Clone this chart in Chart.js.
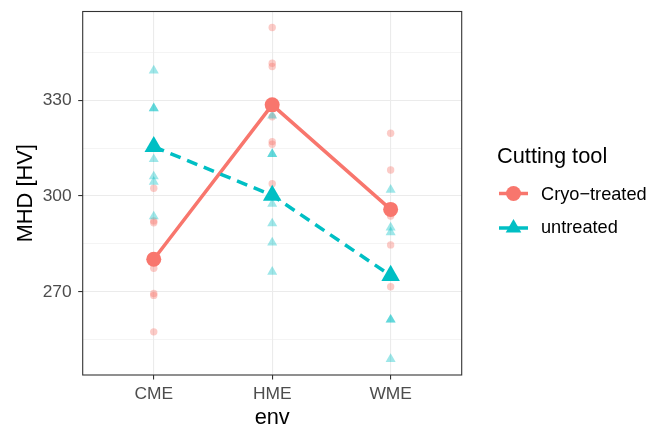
<!DOCTYPE html>
<html>
<head>
<meta charset="utf-8">
<script src="https://cdn.jsdelivr.net/npm/chart.js@4.4.1/dist/chart.umd.min.js"></script>
<style>
  html, body { margin: 0; padding: 0; background: #ffffff; }
  #wrap { width: 651px; height: 428px; }
</style>
</head>
<body>
<div id="wrap"><canvas id="c" width="651" height="428"></canvas></div>
<script>
// Hardness measurements (MHD, HV) per machining environment and cutting tool
const categories = ['CME', 'HME', 'WME'];
const seriesNames = ['Cryo\u2212treated', 'untreated'];

const cryoCME = [302.4, 292.2, 291.6, 277.4, 269.5, 268.9, 257.5];
const cryoHME = [352.7, 341.5, 340.5, 324.8, 317.0, 316.2, 303.8];
const cryoWME = [319.6, 308.1, 293.7, 284.7, 271.6];

const untreatedCME = [339.2, 327.4, 327.4, 316.0, 311.5, 306.1, 304.4, 293.6];
const untreatedHME = [325.1, 313.1, 313.1, 297.5, 291.4, 285.4, 276.3];
const untreatedWME = [301.9, 290.1, 288.6, 261.3, 261.3, 249.0];

// group means
const cryoMeans = [280.2, 328.5, 295.8];
const untreatedMeans = [315.4, 300.2, 275.1];

const yMajorTicks = [270, 300, 330];

const RED = '#F8766D';
const TEAL = '#00BFC4';
const RED_A = 'rgba(248,118,109,0.38)';
const TEAL_A = 'rgba(0,191,196,0.38)';
const FONT = "'Liberation Sans', Arial, Helvetica, sans-serif";

function toPoints(groups) {
  const pts = [];
  groups.forEach((vals, i) => vals.forEach(v => pts.push({ x: i + 1, y: v })));
  return pts;
}
function meanPoints(means) {
  return means.map((v, i) => ({ x: i + 1, y: v }));
}

// axis titles, panel border and legend
const decorations = {
  id: 'decorations',
  afterDraw(chart) {
    const ctx = chart.ctx;
    const a = chart.chartArea;
    ctx.save();
    // panel border
    ctx.strokeStyle = '#333333';
    ctx.lineWidth = 1.1;
    ctx.strokeRect(a.left, a.top, a.right - a.left, a.bottom - a.top);

    // axis titles
    ctx.fillStyle = '#000000';
    ctx.font = '21.8px ' + FONT;
    ctx.textAlign = 'center';
    ctx.textBaseline = 'alphabetic';
    ctx.fillText('env', (a.left + a.right) / 2, 424);
    ctx.save();
    ctx.translate(32, (a.top + a.bottom) / 2);
    ctx.rotate(-Math.PI / 2);
    ctx.fillText('MHD [HV]', 0, 0);
    ctx.restore();

    // legend
    ctx.textAlign = 'left';
    ctx.fillText('Cutting tool', 497, 162.5);

    // Cryo-treated key
    ctx.strokeStyle = RED;
    ctx.lineWidth = 3.5;
    ctx.beginPath();
    ctx.moveTo(499, 193.5);
    ctx.lineTo(528, 193.5);
    ctx.stroke();
    ctx.fillStyle = RED;
    ctx.beginPath();
    ctx.arc(513.5, 193.5, 7.5, 0, Math.PI * 2);
    ctx.fill();

    // untreated key
    ctx.strokeStyle = TEAL;
    ctx.beginPath();
    ctx.moveTo(499, 228);
    ctx.lineTo(528, 228);
    ctx.stroke();
    ctx.fillStyle = TEAL;
    const r = 9;
    ctx.beginPath();
    ctx.moveTo(513.5, 228 - r);
    ctx.lineTo(513.5 + r * Math.sqrt(3) / 2, 228 + r / 2);
    ctx.lineTo(513.5 - r * Math.sqrt(3) / 2, 228 + r / 2);
    ctx.closePath();
    ctx.fill();

    ctx.fillStyle = '#000000';
    ctx.font = '18.2px ' + FONT;
    ctx.fillText(seriesNames[0], 541, 200);
    ctx.fillText(seriesNames[1], 541, 233);
    ctx.restore();
  }
};

const chart = new Chart(document.getElementById('c'), {
  type: 'scatter',
  data: {
    datasets: [
      {
        label: seriesNames[0] + ' mean',
        type: 'line',
        data: meanPoints(cryoMeans),
        showLine: true,
        borderColor: RED,
        borderWidth: 3.5,
        backgroundColor: RED,
        pointStyle: 'circle',
        pointRadius: 7.5,
        pointBorderWidth: 0,
        pointBackgroundColor: RED,
        tension: 0,
        fill: false,
        order: 1
      },
      {
        label: seriesNames[1] + ' mean',
        type: 'line',
        data: meanPoints(untreatedMeans),
        showLine: true,
        borderColor: TEAL,
        borderWidth: 3.5,
        borderDash: [11, 7],
        backgroundColor: TEAL,
        pointStyle: 'triangle',
        pointRadius: 10.7,
        pointBorderWidth: 0,
        pointBackgroundColor: TEAL,
        tension: 0,
        fill: false,
        order: 0
      },
      {
        label: seriesNames[0],
        data: toPoints([cryoCME, cryoHME, cryoWME]),
        pointStyle: 'circle',
        pointRadius: 3.7,
        pointBorderWidth: 0,
        backgroundColor: RED_A,
        pointBackgroundColor: RED_A,
        order: 3
      },
      {
        label: seriesNames[1],
        data: toPoints([untreatedCME, untreatedHME, untreatedWME]),
        pointStyle: 'triangle',
        pointRadius: 5.8,
        pointBorderWidth: 0,
        backgroundColor: TEAL_A,
        pointBackgroundColor: TEAL_A,
        order: 2
      }
    ]
  },
  options: {
    responsive: false,
    animation: false,
    devicePixelRatio: 1,
    layout: { padding: { top: 11.5, right: 189.3, left: 0, bottom: 0 } },
    plugins: {
      legend: { display: false },
      tooltip: { enabled: false }
    },
    scales: {
      x: {
        type: 'linear',
        min: 0.4,
        max: 3.6,
        afterBuildTicks: s => { s.ticks = categories.map((c, i) => ({ value: i + 1 })); },
        afterFit: s => { s.height = 53; s.paddingLeft = 0; s.paddingRight = 0; },
        ticks: {
          callback: v => categories[Math.round(v) - 1] || '',
          font: { family: FONT, size: 17.4 },
          color: '#4D4D4D',
          padding: 4,
          maxRotation: 0,
          autoSkip: false
        },
        grid: {
          color: '#EBEBEB',
          lineWidth: 1.1,
          tickLength: 4.5,
          tickColor: '#333333',
          tickWidth: 1.1
        },
        border: { display: false }
      },
      y: {
        type: 'linear',
        min: 244.0,
        max: 357.7,
        afterFit: s => { s.width = 82.7; s.paddingTop = 0; s.paddingBottom = 0; },
        ticks: {
          stepSize: 15,
          includeBounds: false,
          callback: v => yMajorTicks.includes(v) ? String(v) : '',
          font: { family: FONT, size: 17.4 },
          color: '#4D4D4D',
          padding: 6.5,
          autoSkip: false
        },
        grid: {
          color: '#EBEBEB',
          lineWidth: c => (c.tick && yMajorTicks.includes(c.tick.value)) ? 1.1 : 0.55,
          tickLength: 4.5,
          tickColor: c => (c.tick && yMajorTicks.includes(c.tick.value)) ? '#333333' : 'rgba(0,0,0,0)',
          tickWidth: 1.1
        },
        border: { display: false }
      }
    }
  },
  plugins: [decorations]
});
</script>
</body>
</html>
